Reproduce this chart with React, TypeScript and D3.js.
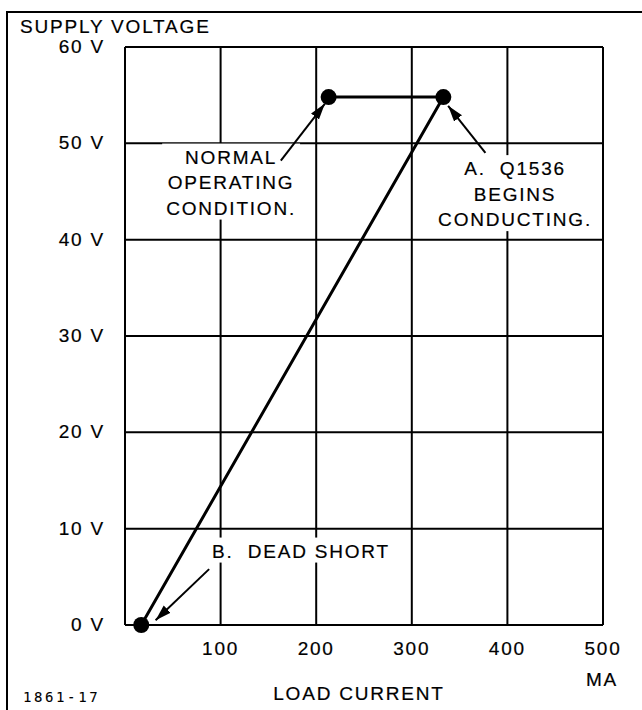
import * as d3 from "d3";
import { useRef, useLayoutEffect, useState } from "react";

// load current (mA) and supply voltage (V) along the curve
const curveCurrent = [17, 333, 213];
const curveVoltage = [0, 54.8, 54.8];

const xTicks = [100, 200, 300, 400, 500];
const xGrid = [0, 100, 200, 300, 400, 500];
const yTicks = [0, 10, 20, 30, 40, 50, 60];

// callouts: text lines, anchor (mA, V), arrow tail -> tip (mA, V)
const noteLines = [
    ["NORMAL", "OPERATING", "CONDITION."],
    ["A.  Q1536", "BEGINS", "CONDUCTING."],
    ["B.  DEAD SHORT"],
];
const noteAt: [number, number][] = [[111, 47.9], [408, 46.7], [91, 7.0]];
const noteAnchor = ["middle", "middle", "start"];
const arrowFrom: [number, number][] = [[163, 48.2], [377, 49.0], [88, 5.8]];
const arrowTo: [number, number][] = [[209, 54.1], [338, 53.9], [32, 0.5]];

const width = 642;
const height = 710;
const font = "'Liberation Sans', Arial, sans-serif";

type Box = { x: number; y: number; width: number; height: number };

export default function App() {
    const x = d3.scaleLinear().domain([0, 500]).range([125, 603]);
    const y = d3.scaleLinear().domain([0, 60]).range([625, 47]);

    const line = d3.line<number>()
        .x((_, i) => x(curveCurrent[i]))
        .y((_, i) => y(curveVoltage[i]));

    // white boxes behind the callout text, measured after layout
    const noteRefs = useRef<(SVGGElement | null)[]>([]);
    const [boxes, setBoxes] = useState<Box[]>([]);
    useLayoutEffect(() => {
        setBoxes(noteRefs.current.map(g => {
            if (!g) return { x: 0, y: 0, width: 0, height: 0 };
            const b = g.getBBox();
            return { x: b.x - 4, y: b.y - 3, width: b.width + 8, height: b.height + 4 };
        }));
    }, []);

    return (
        <svg width={width} height={height} style={{ position: "absolute", left: 0, top: 0, background: "#fff" }}
             fontFamily={font} fontSize={19} letterSpacing={1.8}>
            <defs>
                <marker id="head" markerUnits="userSpaceOnUse" markerWidth={18} markerHeight={12}
                        refX={16} refY={6} orient="auto">
                    <path d="M0,1 L16,6 L0,11 Z" fill="#000" />
                </marker>
            </defs>

            {/* frame of the figure */}
            <path d="M7,710 L7,12 L642,12" fill="none" stroke="#000" strokeWidth={2} />

            <g fill="#000" stroke="#000" strokeWidth={0.2}>
                <text x={20} y={33}>SUPPLY VOLTAGE</text>
                {yTicks.map(v => (
                    <text key={"ly" + v} x={x(0) - 20} y={y(v) + 6} textAnchor="end">{v} V</text>
                ))}
                {xTicks.map(v => (
                    <text key={"lx" + v} x={x(v)} y={655} textAnchor="middle">{v}</text>
                ))}
                <text x={602} y={686} textAnchor="middle">MA</text>
                <text x={359} y={700} textAnchor="middle">LOAD CURRENT</text>
                <text x={23} y={702} fontSize={14} fontFamily="'DejaVu Sans Mono', monospace" letterSpacing={2.6}
                      strokeWidth={0.1}>1861-17</text>
            </g>

            {/* grid */}
            {xGrid.map(v => (
                <line key={"gx" + v} x1={x(v)} x2={x(v)} y1={y(0)} y2={y(60)} stroke="#000" strokeWidth={2} />
            ))}
            {yTicks.map(v => (
                <line key={"gy" + v} x1={x(0)} x2={x(500)} y1={y(v)} y2={y(v)} stroke="#000" strokeWidth={2} />
            ))}

            {boxes.map((b, i) => (
                <rect key={"bx" + i} x={b.x} y={b.y} width={b.width} height={b.height} fill="#fff" />
            ))}

            {/* curve */}
            <path d={line(curveCurrent) ?? ""} fill="none" stroke="#000" strokeWidth={3} strokeLinejoin="round" />
            {curveCurrent.map((c, i) => (
                <circle key={"p" + i} cx={x(c)} cy={y(curveVoltage[i])} r={8} fill="#000" />
            ))}

            {/* callouts */}
            {noteLines.map((lines, i) => (
                <g key={"n" + i}>
                    <line x1={x(arrowFrom[i][0])} y1={y(arrowFrom[i][1])} x2={x(arrowTo[i][0])} y2={y(arrowTo[i][1])}
                          stroke="#000" strokeWidth={2} markerEnd="url(#head)" />
                    <g ref={el => { noteRefs.current[i] = el; }}>
                        {lines.map((t, j) => (
                            <text key={j} x={x(noteAt[i][0])} y={y(noteAt[i][1]) + j * 25.5}
                                  textAnchor={noteAnchor[i]} fill="#000" stroke="#000" strokeWidth={0.2}
                                  style={{ whiteSpace: "pre" }}>{t}</text>
                        ))}
                    </g>
                </g>
            ))}
        </svg>
    );
}
